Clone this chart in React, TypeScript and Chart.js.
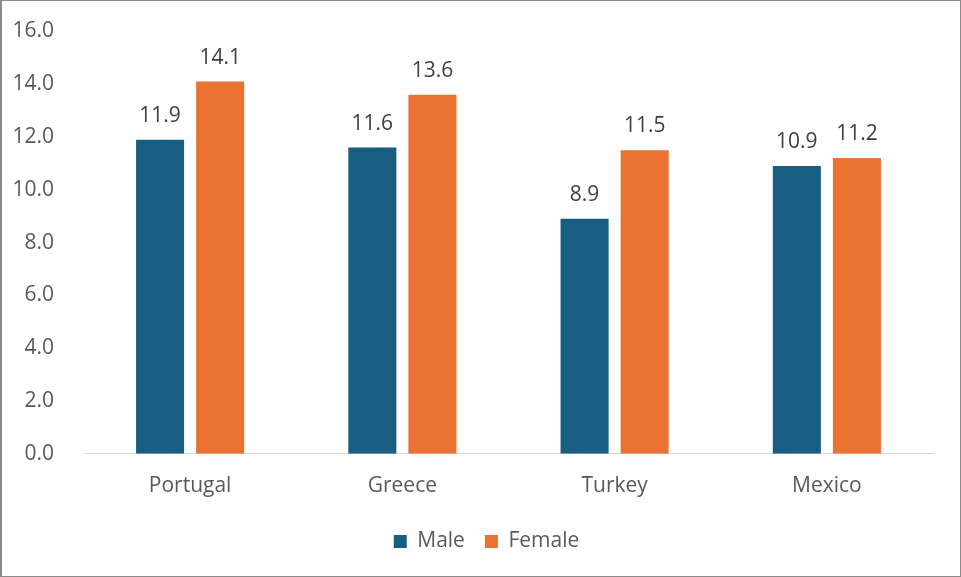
import React, { useEffect, useRef } from "react";
import { Chart, registerables } from "chart.js";

Chart.register(...registerables);

const categories = ["Portugal", "Greece", "Turkey", "Mexico"];
const maleValues = [11.9, 11.6, 8.9, 10.9];
const femaleValues = [14.1, 13.6, 11.5, 11.2];
const seriesNames = ["Male", "Female"];
const yTicks = { min: 0, max: 16, step: 2 };

const FONT = "'Open Sans', 'Noto Sans', sans-serif";
const FS = 21;

const dataLabels = {
  id: "dataLabels",
  afterDatasetsDraw(chart: any) {
    const ctx = chart.ctx;
    ctx.save();
    ctx.font = `${FS}px ${FONT}`;
    ctx.fillStyle = "#404040";
    ctx.textAlign = "center";
    ctx.textBaseline = "middle";
    chart.data.datasets.forEach((ds: any, i: number) => {
      const meta = chart.getDatasetMeta(i);
      meta.data.forEach((bar: any, j: number) => {
        ctx.fillText(Number(ds.data[j]).toFixed(1), bar.x, bar.y - 24);
      });
    });
    ctx.restore();
  },
};

// shift the legend so that it sits where the reference puts it
const legendShift = {
  id: "legendShift",
  afterLayout(chart: any) {
    const lg = chart.legend;
    if (lg) {
      lg.left += 19;
      lg.right += 19;
    }
  },
};

export default function App() {
  const ref = useRef<HTMLCanvasElement>(null);
  useEffect(() => {
    document.body.style.margin = "0";
    const chart = new Chart(ref.current!, {
      type: "bar",
      data: {
        labels: categories,
        datasets: [
          {
            label: seriesNames[0],
            data: maleValues,
            backgroundColor: "#175e80",
            categoryPercentage: 0.566,
            barPercentage: 0.8,
          },
          {
            label: seriesNames[1],
            data: femaleValues,
            backgroundColor: "#e97232",
            categoryPercentage: 0.566,
            barPercentage: 0.8,
          },
        ],
      },
      options: {
        animation: false,
        responsive: false,
        layout: { padding: { top: 6, right: 26, left: 0, bottom: 14 } },
        plugins: {
          legend: {
            position: "bottom",
            labels: {
              boxWidth: 13,
              boxHeight: 13,
              padding: 20,
              color: "#595959",
              font: { family: FONT, size: FS },
            },
          },
          tooltip: { enabled: false },
        },
        scales: {
          x: {
            grid: { display: false },
            border: { display: true, color: "#d9d9d9", width: 1 },
            ticks: { color: "#595959", font: { family: FONT, size: FS }, padding: 12 },
          },
          y: {
            min: yTicks.min,
            max: yTicks.max,
            grid: { display: false },
            border: { display: false },
            afterFit: (s: any) => {
              s.width = 82;
            },
            ticks: {
              stepSize: yTicks.step,
              color: "#595959",
              font: { family: FONT, size: FS, lineHeight: 0.8 },
              padding: 22,
              callback: (v: any) => Number(v).toFixed(1),
            },
          },
        },
      },
      plugins: [dataLabels, legendShift],
    });
    return () => chart.destroy();
  }, []);
  return (
    <div
      style={{
        width: 961,
        height: 577,
        boxSizing: "border-box",
        border: "1px solid #8c8c8c",
        borderLeftWidth: 2,
        background: "#fff",
        overflow: "hidden",
      }}
    >
      <canvas ref={ref} width={957} height={575} style={{ display: "block" }} />
    </div>
  );
}
